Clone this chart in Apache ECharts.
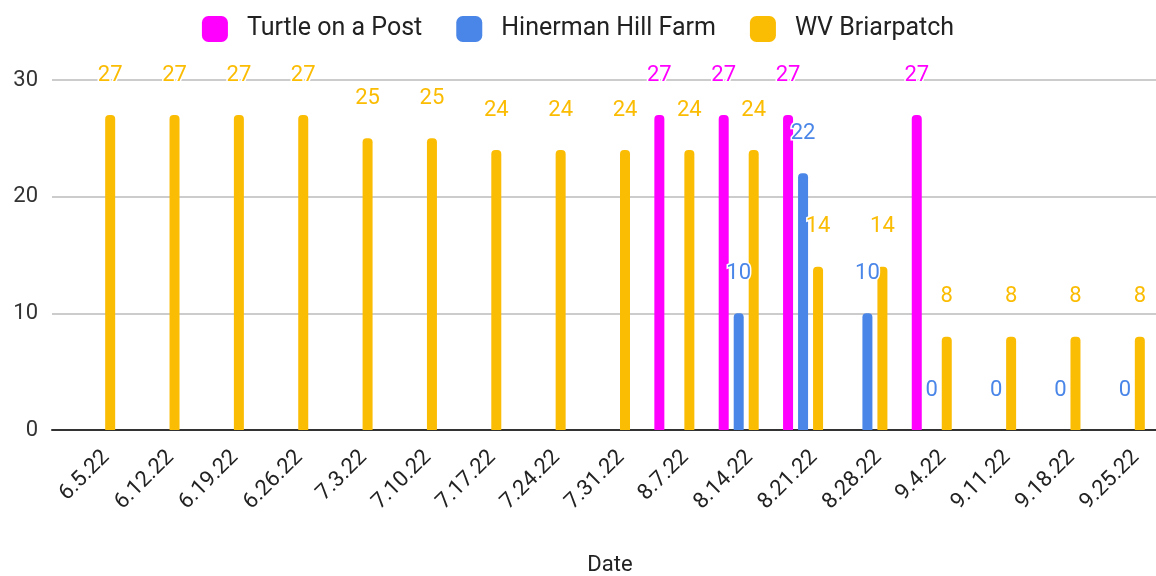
<!DOCTYPE html>
<html>
<head>
<meta charset="utf-8">
<script src="https://cdn.jsdelivr.net/npm/echarts@6/dist/echarts.min.js"></script>
<style>
  html, body { margin: 0; padding: 0; background: #fff; }
  #chart { width: 1156px; height: 576px; }
</style>
</head>
<body>
<div id="chart"></div>
<script>
// categories (weeks)
const dates = ['6.5.22', '6.12.22', '6.19.22', '6.26.22', '7.3.22', '7.10.22', '7.17.22', '7.24.22',
  '7.31.22', '8.7.22', '8.14.22', '8.21.22', '8.28.22', '9.4.22', '9.11.22', '9.18.22', '9.25.22']

// series values, null = no bar
const turtleOnAPost = [null, null, null, null, null, null, null, null, null, 27, 27, 27, null, 27, null, null, null]
const hinermanHillFarm = [null, null, null, null, null, null, null, null, null, null, 10, 22, 10, 0, 0, 0, 0]
const wvBriarpatch = [27, 27, 27, 27, 25, 25, 24, 24, 24, 24, 24, 14, 14, 8, 8, 8, 8]

const yTicks = [0, 10, 20, 30]

const chart = echarts.init(document.getElementById('chart'))

function barSeries(name, data, color) {
  return {
    name: name,
    type: 'bar',
    data: data,
    barWidth: 10,
    barGap: '50%',
    itemStyle: { color: color, borderRadius: [4, 4, 0, 0] },
    label: {
      show: true,
      position: 'top',
      distance: 29,
      color: color,
      fontSize: 22,
      fontFamily: 'Roboto',
      textBorderColor: '#fff',
      textBorderWidth: 3
    }
  }
}

const yMin = yTicks[0]
const yMax = yTicks[yTicks.length - 1]

const option = {
  animation: false,
  textStyle: { fontFamily: 'Roboto' },
  legend: {
    top: 11,
    left: 'center',
    itemWidth: 26,
    itemHeight: 26,
    itemGap: 34,
    icon: 'roundRect',
    textStyle: { fontSize: 25, color: '#222', padding: [0, 0, 0, 14] },
    data: ['Turtle on a Post', 'Hinerman Hill Farm', 'WV Briarpatch']
  },
  // 0: bars, 1: gridlines + axis line, 2: date labels (sit a bit right of the bars)
  grid: [
    { left: 63, right: -1, top: 80, bottom: 146, outerBoundsMode: 'none' },
    { left: 52, right: 0, top: 80, bottom: 146, outerBoundsMode: 'none' },
    { left: 74, right: -12, top: 80, bottom: 146, outerBoundsMode: 'none' }
  ],
  xAxis: [
    {
      type: 'category',
      gridIndex: 0,
      data: dates,
      name: 'Date',
      nameLocation: 'middle',
      nameGap: 124,
      nameTextStyle: { fontSize: 22, color: '#222' },
      axisTick: { show: false },
      axisLine: { show: false },
      axisLabel: { show: false }
    },
    {
      type: 'category',
      gridIndex: 1,
      data: dates,
      axisTick: { show: false },
      axisLine: { lineStyle: { color: '#333', width: 2 } },
      axisLabel: { show: false }
    },
    {
      type: 'category',
      gridIndex: 2,
      data: dates,
      axisTick: { show: false },
      axisLine: { show: false },
      axisLabel: { rotate: 45, fontSize: 22, color: '#222', margin: 24 }
    }
  ],
  yAxis: [
    { type: 'value', gridIndex: 0, min: yMin, max: yMax, interval: 10, show: false },
    {
      type: 'value',
      gridIndex: 1,
      min: yMin,
      max: yMax,
      interval: 10,
      axisLabel: { fontSize: 22, color: '#333', margin: 14 },
      splitLine: { lineStyle: { color: '#ccc', width: 2 } }
    },
    { type: 'value', gridIndex: 2, min: yMin, max: yMax, interval: 10, show: false }
  ],
  series: [
    barSeries('Turtle on a Post', turtleOnAPost, '#ff00ff'),
    barSeries('Hinerman Hill Farm', hinermanHillFarm, '#4a86e8'),
    barSeries('WV Briarpatch', wvBriarpatch, '#fbbc04')
  ]
}

chart.setOption(option)
window.addEventListener('resize', function() {
  chart.resize()
})
</script>
</body>
</html>
